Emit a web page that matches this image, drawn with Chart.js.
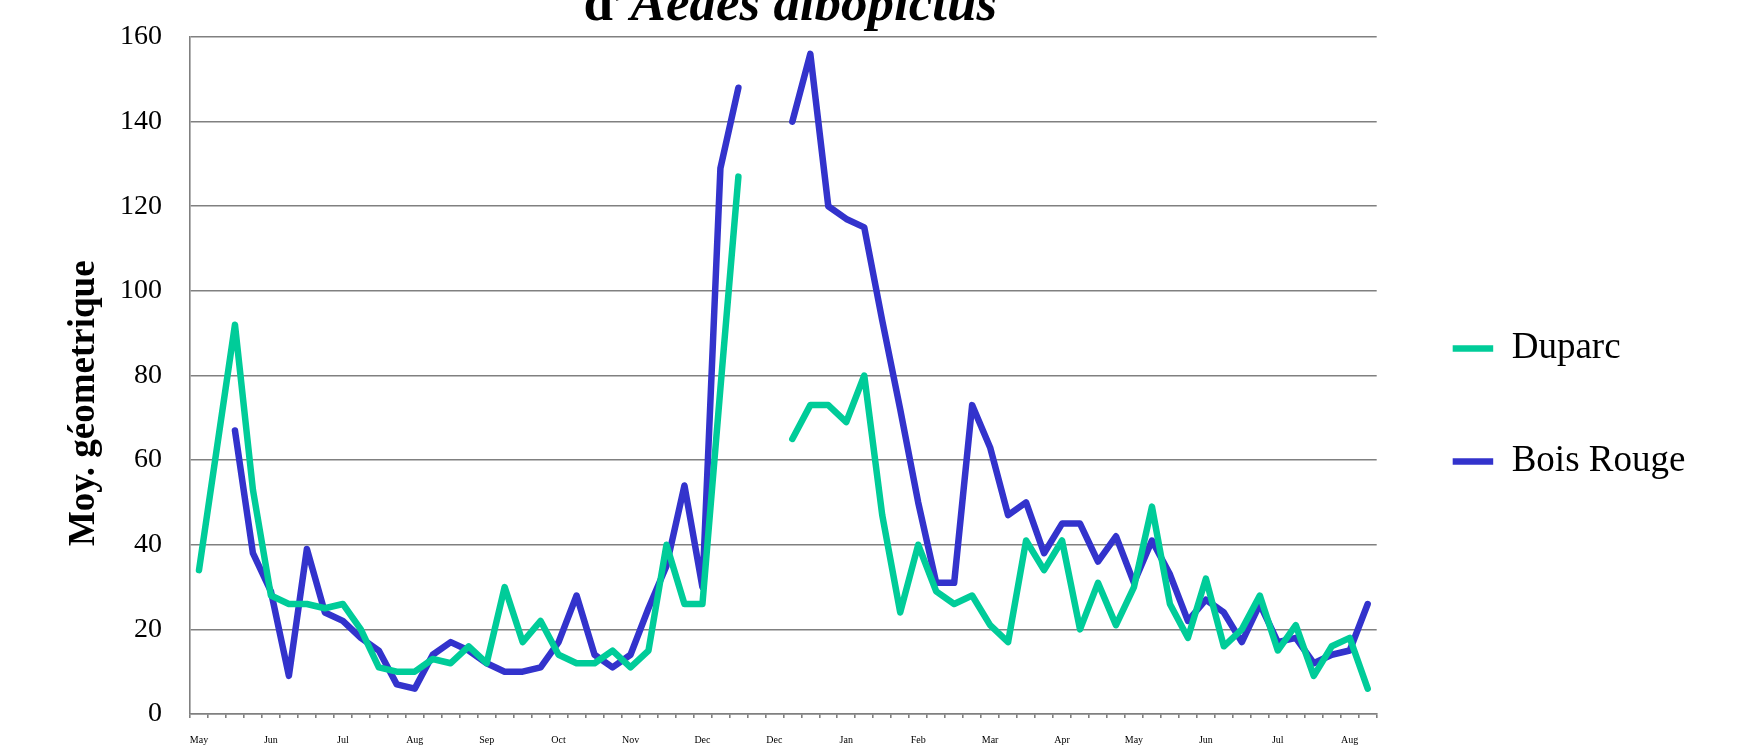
<!DOCTYPE html>
<html lang="fr">
<head>
<meta charset="utf-8">
<title>Moy. géometrique - Duparc / Bois Rouge</title>
<script src="https://cdn.jsdelivr.net/npm/chart.js@4.4.1/dist/chart.umd.min.js"></script>
<style>
  html, body { margin: 0; padding: 0; background: #fff; overflow: hidden; }
  #cadre { width: 1752px; height: 762px; }
</style>
</head>
<body>
<div id="cadre"><canvas id="graphique" width="1752" height="762"></canvas></div>
<script>
// Mois affichés sous l'axe : un tous les 4 relevés
const moisEtiquettes = ['May', 'Jun', 'Jul', 'Aug', 'Sep', 'Oct', 'Nov', 'Dec', 'Dec',
                        'Jan', 'Feb', 'Mar', 'Apr', 'May', 'Jun', 'Jul', 'Aug'];
const nbReleves = 66;
const pasEtiquette = 4;

// Moyennes géométriques (null = pas de relevé)
const duparc = [34, 63, 92, 53, 28, 26, 26, 25, 26, 20, 11, 10, 10, 13, 12, 16,
                12, 30, 17, 22, 14, 12, 12, 15, 11, 15, 40, 26, 26, 77, 127, null,
                null, 65, 73, 73, 69, 80, 47, 24, 40, 29, 26, 28, 21, 17, 41, 34,
                41, 20, 31, 21, 30, 49, 26, 18, 32, 16, 20, 28, 15, 21, 9, 16,
                18, 6];
const boisRouge = [null, null, 67, 38, 29, 9, 39, 24, 22, 18, 15, 7, 6, 14, 17, 15,
                   12, 10, 10, 11, 17, 28, 14, 11, 14, 25, 35, 54, 30, 129, 148, null,
                   null, 140, 156, 120, 117, 115, 93, 72, 50, 31, 31, 73, 63, 47, 50, 38,
                   45, 45, 36, 42, 31, 41, 33, 22, 27, 24, 17, 26, 17, 18, 12, 14,
                   15, 26];

const yMin = 0;
const yMax = 160;
const yPas = 20;

const titreMorceaux = [
    { texte: 'd\u2019', style: 'bold' },
    { texte: 'Aedes albopictus', style: 'italic bold' }
];

const COULEURS = {
    duparc: '#00cc99',
    boisRouge: '#3333cc',
    grille: '#808080',
    texte: '#000000'
};
const POLICE = '"Liberation Serif", "Times New Roman", serif';

// une catégorie par relevé, le nom du mois tous les 4
const categories = [];
for (let i = 0; i < nbReleves; i++) {
    categories.push(i % pasEtiquette === 0 ? (moisEtiquettes[i / pasEtiquette] || '') : '');
}

// Titre dont seule la dernière ligne est visible en haut de l'image
const titreCoupe = {
    id: 'titreCoupe',
    afterDraw(chart) {
        const ctx = chart.ctx;
        const zone = chart.chartArea;
        ctx.save();
        ctx.fillStyle = COULEURS.texte;
        ctx.textBaseline = 'alphabetic';
        ctx.textAlign = 'left';
        let largeur = 0;
        titreMorceaux.forEach(m => {
            ctx.font = m.style + ' 53px ' + POLICE;
            largeur += ctx.measureText(m.texte).width;
        });
        let x = (zone.left + zone.right) / 2 + 7 - largeur / 2;
        titreMorceaux.forEach(m => {
            ctx.font = m.style + ' 53px ' + POLICE;
            ctx.fillText(m.texte, x, 19.5);
            x += ctx.measureText(m.texte).width;
        });
        ctx.restore();
    }
};

const ctx = document.getElementById('graphique').getContext('2d');
new Chart(ctx, {
    type: 'line',
    data: {
        labels: categories,
        datasets: [
            {
                label: 'Duparc',
                data: duparc,
                borderColor: COULEURS.duparc,
                backgroundColor: COULEURS.duparc,
                borderWidth: 6.5,
                borderCapStyle: 'round',
                borderJoinStyle: 'round',
                pointRadius: 0,
                pointHoverRadius: 0,
                tension: 0,
                spanGaps: false,
                fill: false
            },
            {
                label: 'Bois Rouge',
                data: boisRouge,
                borderColor: COULEURS.boisRouge,
                backgroundColor: COULEURS.boisRouge,
                borderWidth: 6.5,
                borderCapStyle: 'round',
                borderJoinStyle: 'round',
                pointRadius: 0,
                pointHoverRadius: 0,
                tension: 0,
                spanGaps: false,
                fill: false
            }
        ]
    },
    options: {
        responsive: false,
        devicePixelRatio: 1,
        animation: false,
        layout: { padding: { top: 37, right: 56.6, bottom: 0, left: 0 } },
        plugins: {
            title: { display: false },
            tooltip: { enabled: false },
            legend: {
                position: 'right',
                title: { display: true, text: '', padding: 0, font: { size: 9 } },
                labels: {
                    usePointStyle: true,
                    pointStyle: 'line',
                    pointStyleWidth: 40.5,
                    padding: 76,
                    color: COULEURS.texte,
                    font: { family: POLICE, size: 37 }
                }
            }
        },
        scales: {
            x: {
                offset: true,
                grid: {
                    offset: true,
                    drawOnChartArea: false,
                    drawTicks: true,
                    tickLength: 4,
                    color: COULEURS.grille,
                    lineWidth: 1.6
                },
                border: { display: true, color: COULEURS.grille, width: 1.6 },
                ticks: {
                    autoSkip: false,
                    maxRotation: 0,
                    minRotation: 0,
                    padding: 16,
                    color: COULEURS.texte,
                    font: { family: POLICE, size: 10 }
                }
            },
            y: {
                min: yMin,
                max: yMax,
                afterFit: (echelle) => {
                    echelle.width = 190;
                    echelle.paddingTop = 0;
                    echelle.paddingBottom = 0;
                },
                grid: {
                    color: COULEURS.grille,
                    lineWidth: 1.6,
                    drawTicks: false
                },
                border: { display: true, color: COULEURS.grille, width: 1.6 },
                ticks: {
                    stepSize: yPas,
                    padding: 28,
                    color: COULEURS.texte,
                    font: { family: POLICE, size: 28 }
                },
                title: {
                    display: true,
                    text: 'Moy. géometrique      ',
                    color: COULEURS.texte,
                    padding: { top: 62, bottom: 0 },
                    font: { family: POLICE, size: 37, weight: 'bold' }
                }
            }
        }
    },
    plugins: [titreCoupe]
});
</script>
</body>
</html>
